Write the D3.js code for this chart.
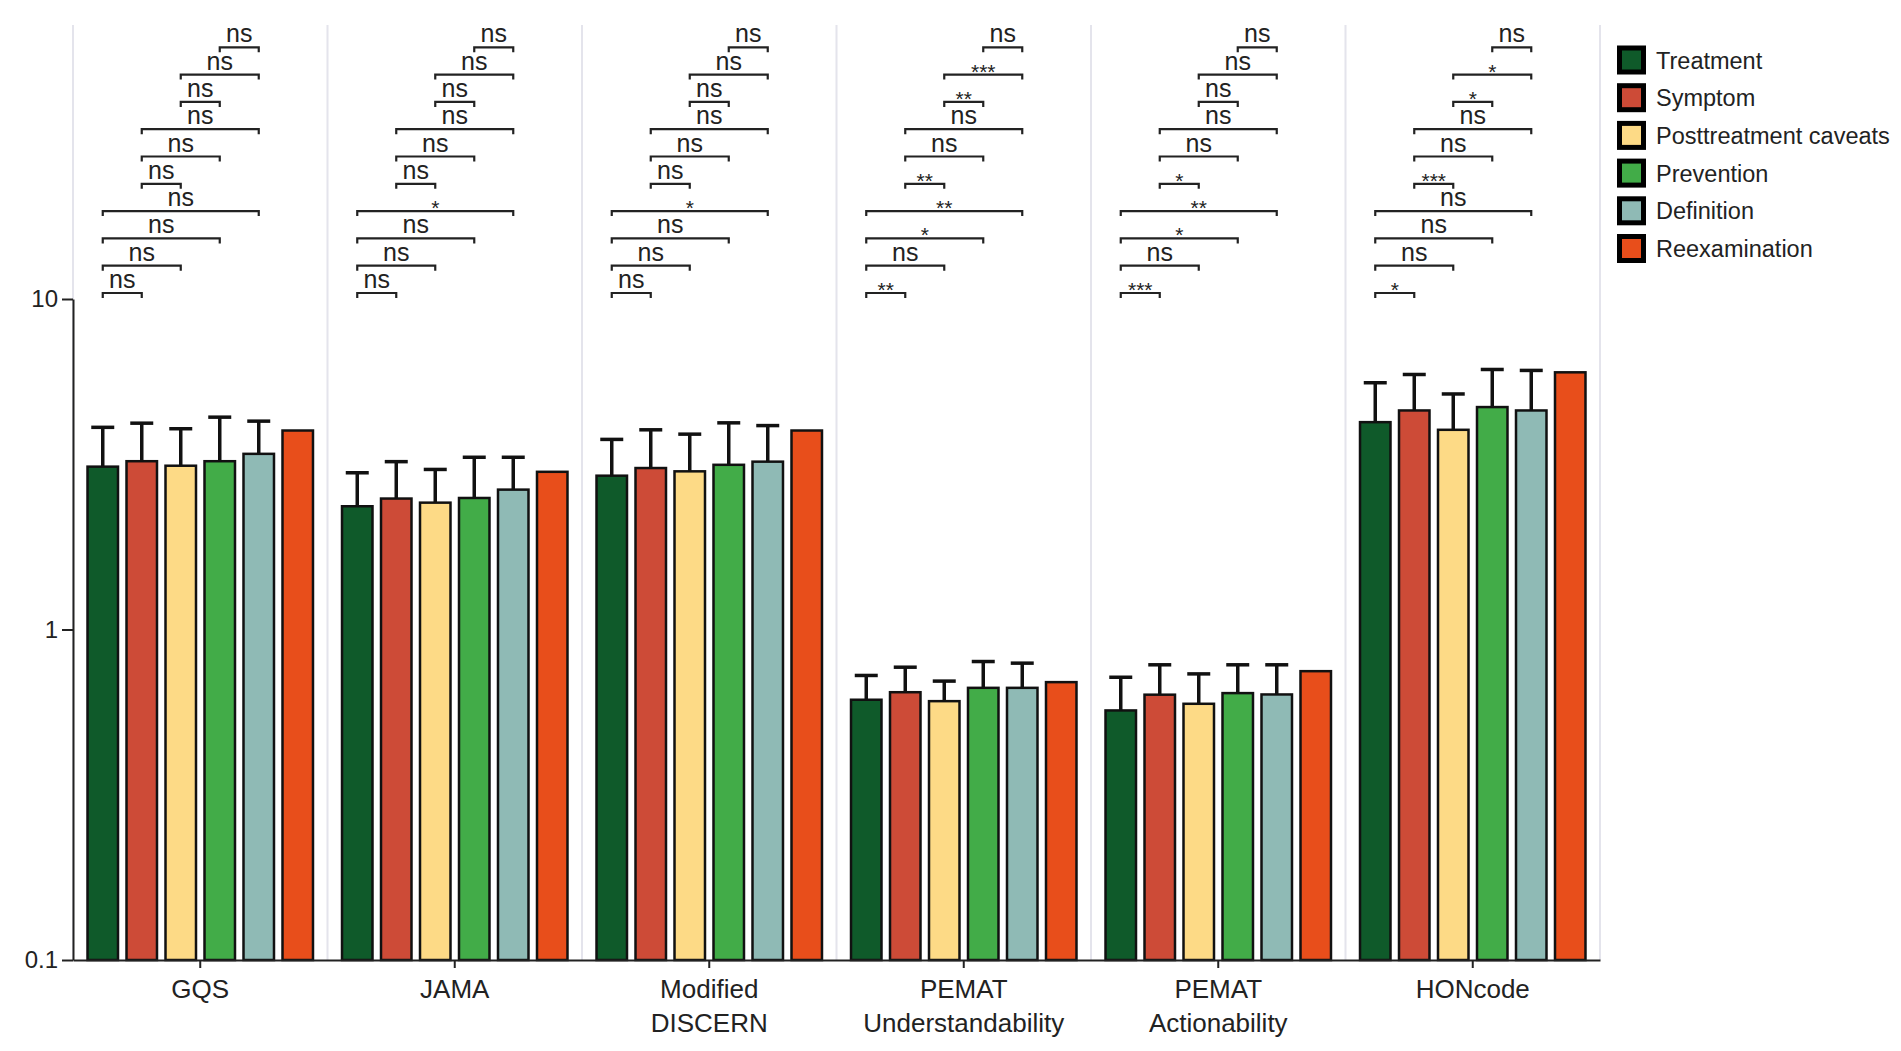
<!DOCTYPE html>
<html>
<head>
<meta charset="utf-8">
<script src="https://cdn.jsdelivr.net/npm/d3@7"></script>
<style>
  body { margin: 0; background: #fff; }
  text { font-family: "Liberation Sans", Arial, sans-serif; fill: #222; }
</style>
</head>
<body>
<svg id="chart" width="1901" height="1051"></svg>
<script>
// data (log scale, mean + SD)
const categories = ["GQS", "JAMA", "Modified DISCERN", "PEMAT Understandability", "PEMAT Actionability", "HONcode"];
const categoryLines = [["GQS"], ["JAMA"], ["Modified", "DISCERN"], ["PEMAT", "Understandability"], ["PEMAT", "Actionability"], ["HONcode"]];
const series = ["Treatment", "Symptom", "Posttreatment caveats", "Prevention", "Definition", "Reexamination"];
const colours = ["#0f5a2a", "#cd4b37", "#fdda86", "#42ac48", "#8fbab5", "#e84e1b"];

const treatment     = [3.11, 2.36, 2.92, 0.613, 0.569, 4.24];
const symptom       = [3.23, 2.49, 3.08, 0.646, 0.635, 4.60];
const posttreatment = [3.13, 2.42, 3.01, 0.607, 0.596, 4.02];
const prevention    = [3.23, 2.50, 3.15, 0.666, 0.642, 4.71];
const definition    = [3.40, 2.65, 3.22, 0.666, 0.636, 4.60];
const reexamination = [4.00, 3.00, 4.00, 0.693, 0.748, 6.00];

const treatmentSD     = [0.98, 0.62, 0.84, 0.113, 0.148, 1.34];
const symptomSD       = [0.98, 0.73, 0.94, 0.123, 0.147, 1.31];
const posttreatmentSD = [0.92, 0.63, 0.89, 0.091, 0.138, 1.14];
const preventionSD    = [1.16, 0.82, 1.07, 0.134, 0.140, 1.41];
const definitionSD    = [0.87, 0.67, 0.92, 0.125, 0.146, 1.48];
const reexaminationSD = [null, null, null, null, null, null];

const yTicks = [0.1, 1, 10];

// pairwise comparisons, bottom bracket first
const pairs = [[0,1],[0,2],[0,3],[0,4],[1,2],[1,3],[1,4],[2,3],[2,4],[3,4]];
const sigGQS   = ["ns","ns","ns","ns","ns","ns","ns","ns","ns","ns"];
const sigJAMA  = ["ns","ns","ns","*","ns","ns","ns","ns","ns","ns"];
const sigDISC  = ["ns","ns","ns","*","ns","ns","ns","ns","ns","ns"];
const sigPEMU  = ["**","ns","*","**","**","ns","ns","**","***","ns"];
const sigPEMA  = ["***","ns","*","**","*","ns","ns","ns","ns","ns"];
const sigHON   = ["*","ns","ns","ns","***","ns","ns","*","*","ns"];

const means = [treatment, symptom, posttreatment, prevention, definition, reexamination];
const sds = [treatmentSD, symptomSD, posttreatmentSD, preventionSD, definitionSD, reexaminationSD];
const sigs = [sigGQS, sigJAMA, sigDISC, sigPEMU, sigPEMA, sigHON];

const svg = d3.select("#chart");

const y = d3.scaleLog().domain([0.1, 10]).range([960, 299]);
const x0 = d3.scaleBand().domain(categories).range([73, 1600]).padding(0);
const x1 = d3.scaleBand().domain(series).range([0, x0.bandwidth()])
        .paddingInner(0.154).paddingOuter(0.34);

// light panel separators
const edges = categories.map(c => x0(c)).concat([x0.range()[1]]);
svg.append("g").selectAll("line")
        .data(edges)
        .join("line")
        .attr("x1", d => d).attr("x2", d => d)
        .attr("y1", 25).attr("y2", y(0.1))
        .attr("stroke", "#e4e4ec")
        .attr("stroke-width", 2);

// bars
const rows = [];
categories.forEach((c, ci) => {
        series.forEach((s, si) => {
                rows.push({c: c, s: s, si: si, v: means[si][ci], sd: sds[si][ci]});
        });
});

const bw = x1.bandwidth();
svg.append("g").selectAll("rect")
        .data(rows)
        .join("rect")
        .attr("x", d => x0(d.c) + x1(d.s) + 1.25)
        .attr("y", d => y(d.v))
        .attr("width", bw - 2.5)
        .attr("height", d => y(0.1) - y(d.v))
        .attr("fill", d => colours[d.si])
        .attr("stroke", "#111")
        .attr("stroke-width", 2.5);

// error bars (upper only)
const errs = svg.append("g").selectAll("g")
        .data(rows.filter(d => d.sd != null))
        .join("g")
        .attr("stroke", "#111")
        .attr("stroke-width", 3.5);

errs.append("line")
        .attr("x1", d => x0(d.c) + x1(d.s) + bw / 2)
        .attr("x2", d => x0(d.c) + x1(d.s) + bw / 2)
        .attr("y1", d => y(d.v))
        .attr("y2", d => y(d.v + d.sd));

errs.append("line")
        .attr("x1", d => x0(d.c) + x1(d.s) + bw / 2 - 11.5)
        .attr("x2", d => x0(d.c) + x1(d.s) + bw / 2 + 11.5)
        .attr("y1", d => y(d.v + d.sd))
        .attr("y2", d => y(d.v + d.sd));

// y axis
const yAxis = svg.append("g")
        .attr("transform", "translate(73,0)")
        .call(d3.axisLeft(y).tickValues(yTicks).tickFormat(d3.format("~g"))
                .tickSize(11).tickSizeOuter(0).tickPadding(4));
yAxis.select(".domain").attr("stroke", "#222").attr("stroke-width", 2);
yAxis.selectAll(".tick line").attr("stroke", "#222").attr("stroke-width", 2);
yAxis.selectAll(".tick text")
        .attr("font-size", "24px")
        .attr("font-family", "Liberation Sans, Arial, sans-serif")
        .attr("fill", "#222");

// x axis
const xAxis = svg.append("g")
        .attr("transform", "translate(0," + y(0.1) + ")")
        .call(d3.axisBottom(x0).tickFormat("").tickSize(8).tickSizeOuter(0));
xAxis.select(".domain").attr("stroke", "#222").attr("stroke-width", 2);
xAxis.selectAll(".tick line").attr("stroke", "#222").attr("stroke-width", 2);

const xLabels = svg.append("g").selectAll("text")
        .data(categories)
        .join("text")
        .attr("x", d => x0(d) + x0.bandwidth() / 2)
        .attr("y", 998)
        .attr("text-anchor", "middle")
        .attr("font-size", "26px");
xLabels.selectAll("tspan")
        .data((d, i) => categoryLines[i])
        .join("tspan")
        .attr("x", function(){ return this.parentNode.getAttribute("x"); })
        .attr("dy", (d, i) => i === 0 ? 0 : 34)
        .text(d => d);

// significance brackets
const bracketBase = y(10) - 6;
const bracketStep = 27.3;
const tick = 5;

categories.forEach((c, ci) => {
        const g = svg.append("g").attr("id", "sig_" + ci);
        pairs.forEach((p, k) => {
                const xa = x0(c) + x1(series[p[0]]) + bw / 2;
                const xb = x0(c) + x1(series[p[1]]) + bw / 2;
                const yb = bracketBase - k * bracketStep;
                g.append("path")
                        .attr("d", "M" + xa + "," + (yb + tick) + "L" + xa + "," + yb +
                                   "L" + xb + "," + yb + "L" + xb + "," + (yb + tick))
                        .attr("fill", "none")
                        .attr("stroke", "#222")
                        .attr("stroke-width", 2.2);
                const lab = sigs[ci][k];
                const isNs = lab === "ns";
                g.append("text")
                        .attr("x", (xa + xb) / 2)
                        .attr("y", isNs ? yb - 5 : yb + 4)
                        .attr("text-anchor", "middle")
                        .attr("font-size", isNs ? "25px" : "21px")
                        .text(lab);
        });
});

// legend
const legend = svg.append("g").attr("transform", "translate(1617,0)");
const items = legend.selectAll("g")
        .data(series)
        .join("g")
        .attr("transform", (d, i) => "translate(0," + (60 + i * 37.7) + ")");
items.append("rect")
        .attr("x", 0).attr("y", -14.5)
        .attr("width", 29).attr("height", 29)
        .attr("fill", "#000");
items.append("rect")
        .attr("x", 5).attr("y", -9.5)
        .attr("width", 19).attr("height", 19)
        .attr("fill", (d, i) => colours[i]);
items.append("text")
        .attr("x", 39)
        .attr("y", 8.5)
        .attr("font-size", "23.5px")
        .text(d => d);
</script>
</body>
</html>
